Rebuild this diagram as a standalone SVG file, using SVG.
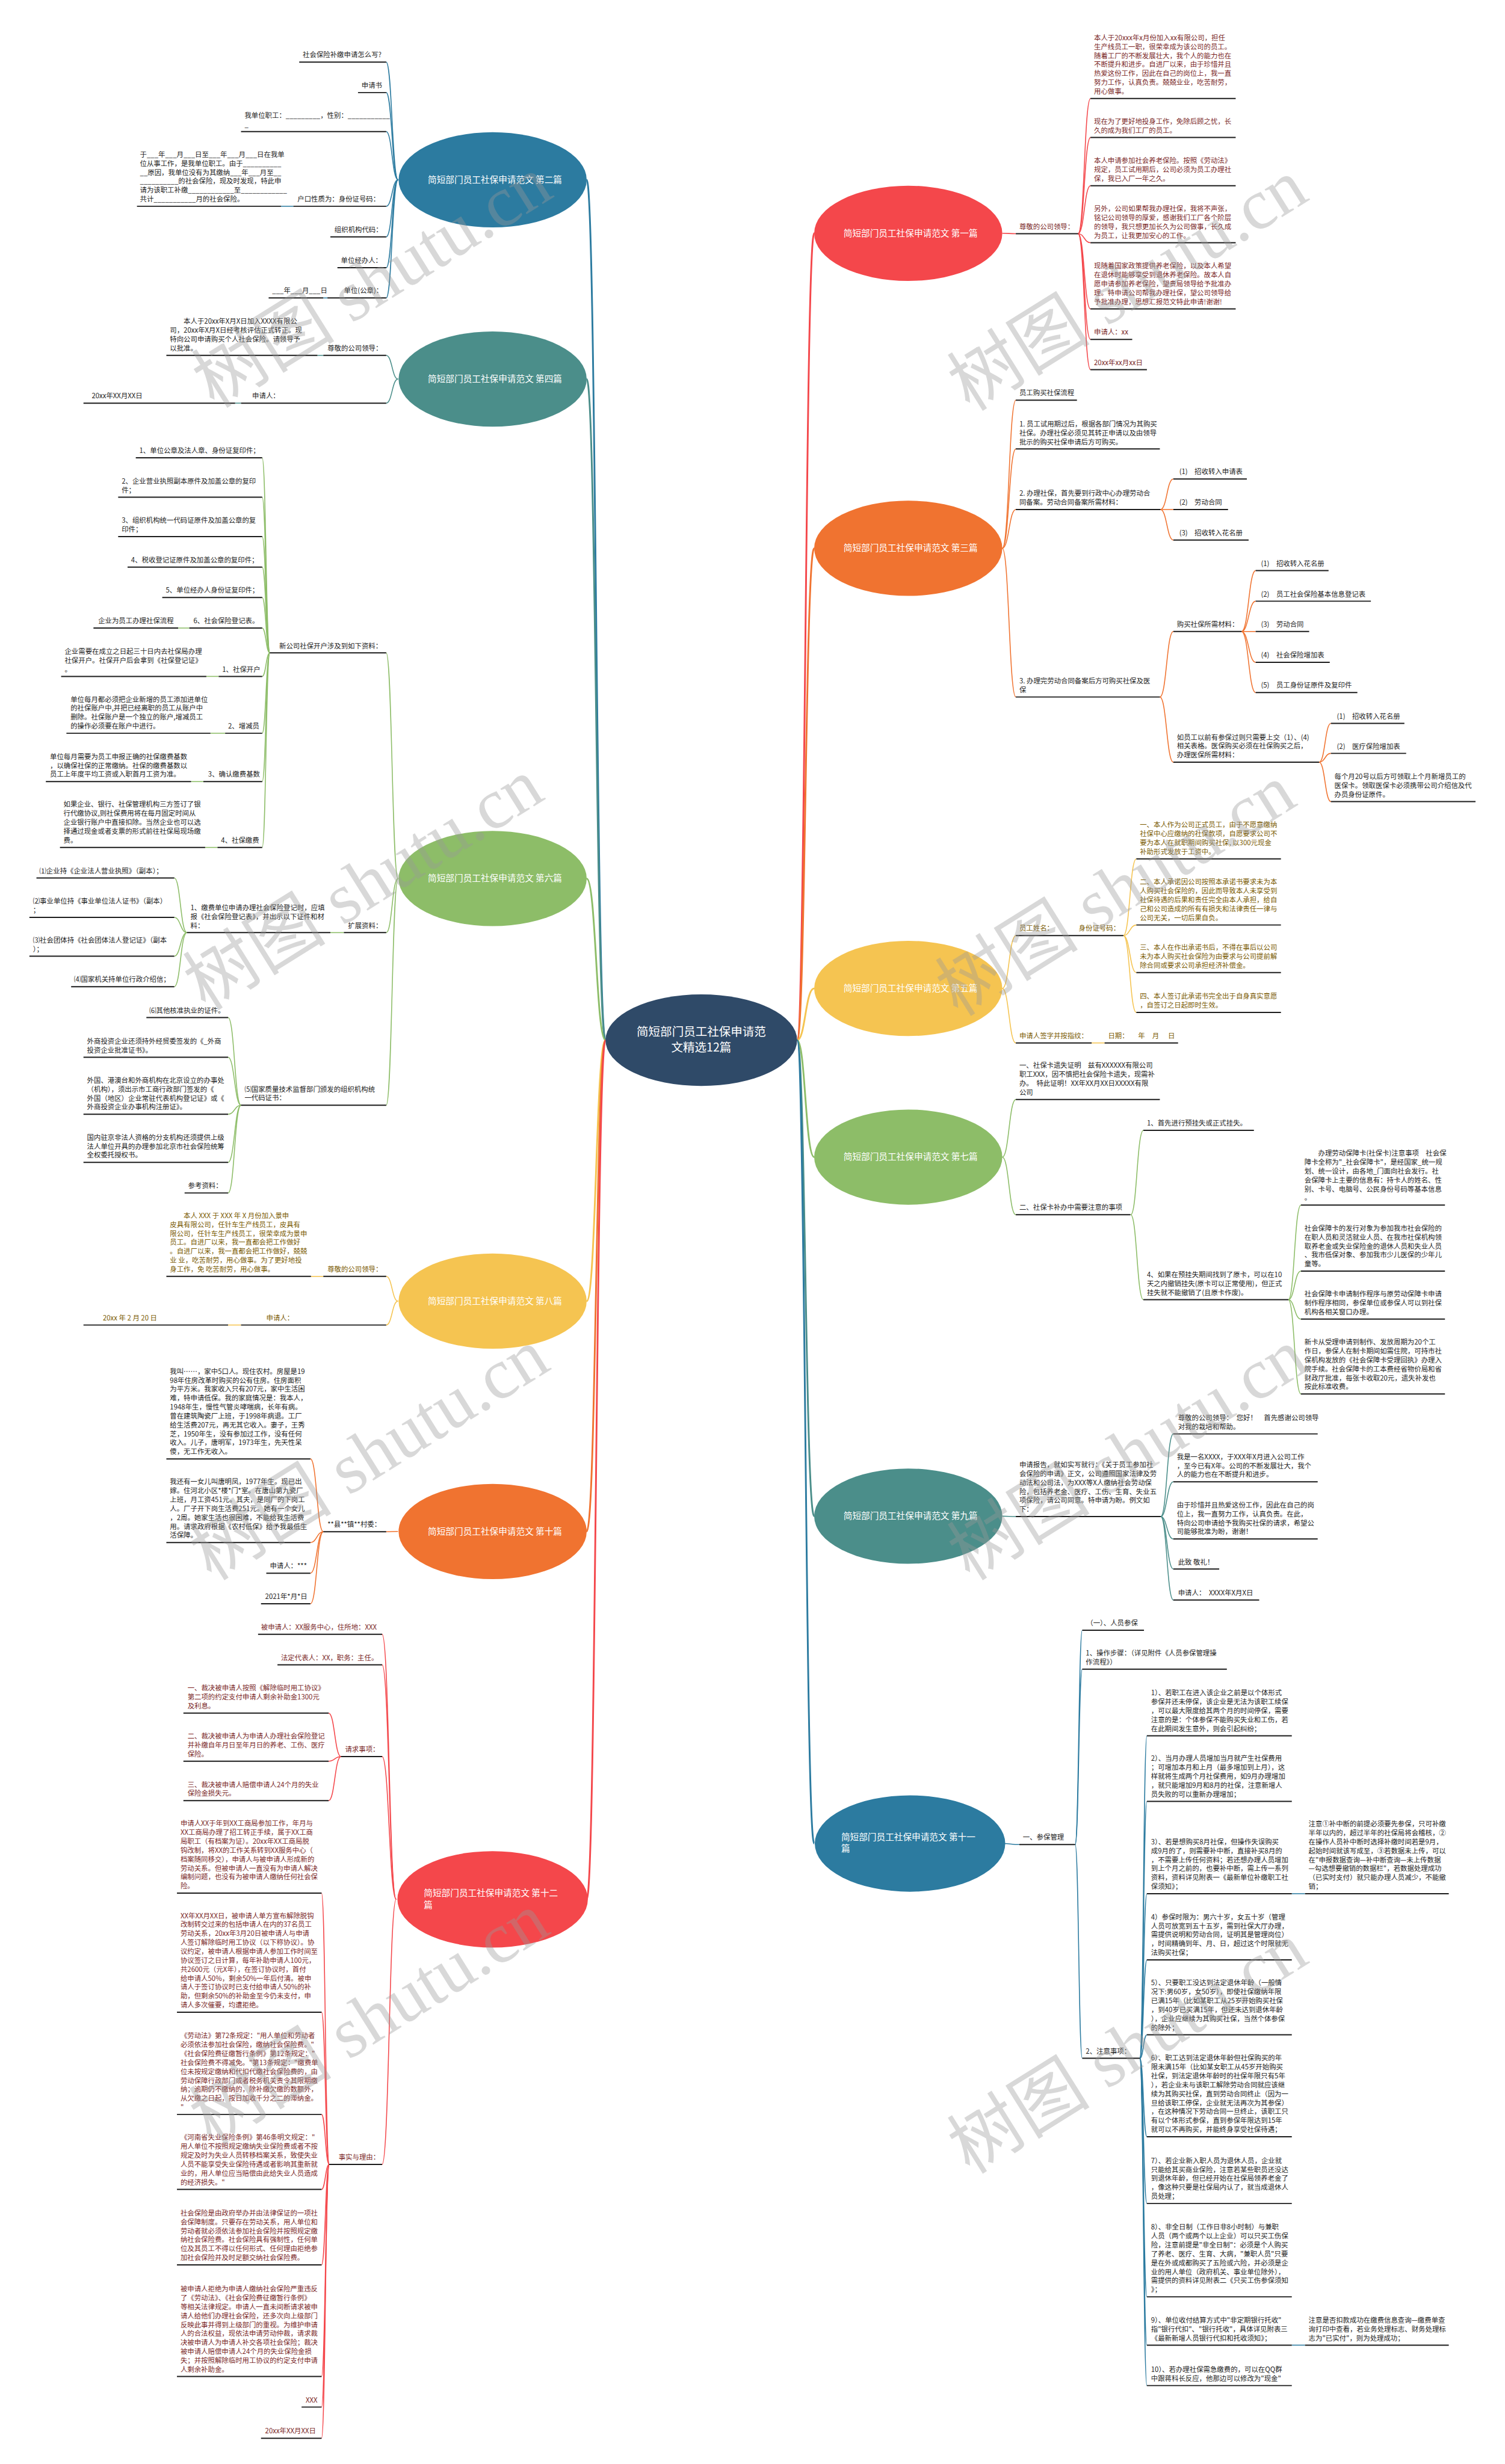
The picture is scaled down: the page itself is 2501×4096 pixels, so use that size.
<svg xmlns="http://www.w3.org/2000/svg" width="2501" height="4096" viewBox="0 0 2501 4096">
<style>
text{font-family:"Noto Sans CJK SC","Noto Sans",sans-serif}
.t{font-size:11.7px;fill:#222}
.r{fill:#7a1f1f}
.y{fill:#7a5a00}
.n{font-size:15px;fill:#fff}
.u{stroke:#1c1c1c;stroke-width:2;fill:none}
.c{fill:none;stroke-width:1.6}
.m{fill:none;stroke-width:3}
.cB{stroke:#2c7ba0}.cT{stroke:#4b8e8a}.cG{stroke:#8dbd68}.cY{stroke:#f5c451}.cO{stroke:#f07330}.cR{stroke:#f4474b}
.wm{font-family:"Liberation Serif","Noto Sans CJK SC",serif;font-size:122px;fill:#999;fill-opacity:.38}
</style>
<rect width="2501" height="4096" fill="#fff"/>
<g transform="scale(0.9769)">
<g id="connectors">
<path class="m cB" d="M1030 1770 C1014 1770 1014 306 998 306"/>
<path class="m cT" d="M1030 1770 C1014 1770 1014 645 998 645"/>
<path class="m cG" d="M1030 1770 C1014 1770 1014 1495 998 1495"/>
<path class="m cY" d="M1030 1770 C1014 1770 1014 2214 998 2214"/>
<path class="m cO" d="M1030 1770 C1014 1770 1014 2606 998 2606"/>
<path class="m cR" d="M1030 1770 C1014 1770 1014 3232 998 3232"/>
<path class="m cR" d="M1356 1770 C1370 1770 1370 397 1385 397"/>
<path class="m cO" d="M1356 1770 C1370 1770 1370 933 1385 933"/>
<path class="m cY" d="M1356 1770 C1370 1770 1370 1682 1385 1682"/>
<path class="m cG" d="M1356 1770 C1370 1770 1370 1969 1385 1969"/>
<path class="m cT" d="M1356 1770 C1370 1770 1370 2580 1385 2580"/>
<path class="m cB" d="M1356 1770 C1370 1770 1370 3137 1385 3137"/>
<g class="c cB">
<path d="M677 306 C667 306 667 105.6 657 105.6"/><path d="M677 306 C667 306 667 157.5 657 157.5"/><path d="M677 306 C667 306 667 224 657 224"/><path d="M677 306 C667 306 667 351 657 351"/><path d="M677 306 C667 306 667 403 657 403"/><path d="M677 306 C667 306 667 455.5 657 455.5"/><path d="M677 306 C667 306 667 507 657 507"/>
<path d="M499 351 H478"/><path d="M557 507 H550"/>
</g>
<g class="c cT">
<path d="M677 645 C667 645 667 604.7 657 604.7"/><path d="M677 645 C667 645 667 686 657 686"/><path d="M550 604.7 H540"/><path d="M410 686 H400"/>
</g>
<g class="c cG">
<path d="M677 1495 C667 1495 667 1111 657 1111"/><path d="M677 1495 C667 1495 667 1587 657 1587"/><path d="M677 1495 C667 1495 667 1880.7 657 1880.7"/>
<path d="M459 1111 C452.5 1111 452.5 779 446 779"/><path d="M459 1111 C452.5 1111 452.5 846 446 846"/><path d="M459 1111 C452.5 1111 452.5 913 446 913"/><path d="M459 1111 C452.5 1111 452.5 965 446 965"/><path d="M459 1111 C452.5 1111 452.5 1016.8 446 1016.8"/><path d="M459 1111 C452.5 1111 452.5 1068.7 446 1068.7"/><path d="M459 1111 C452.5 1111 452.5 1151 446 1151"/><path d="M459 1111 C452.5 1111 452.5 1247.7 446 1247.7"/><path d="M459 1111 C452.5 1111 452.5 1330 446 1330"/><path d="M459 1111 C452.5 1111 452.5 1442 446 1442"/>
<path d="M322 1068.7 H303"/><path d="M372 1151 H351"/><path d="M383 1247.7 H358"/><path d="M346 1330 H325"/><path d="M370 1442 H349"/>
<path d="M585 1587 H562"/>
<path d="M318 1587 C307 1587 307 1494 296.5 1494"/><path d="M318 1587 C307 1587 307 1561 296.5 1561"/><path d="M318 1587 C307 1587 307 1627 296.5 1627"/><path d="M318 1587 C307 1587 307 1679 296.5 1679"/>
<path d="M410 1880.7 C399 1880.7 399 1731.5 388 1731.5"/><path d="M410 1880.7 C399 1880.7 399 1799 388 1799"/><path d="M410 1880.7 C399 1880.7 399 1896 388 1896"/><path d="M410 1880.7 C399 1880.7 399 1978 388 1978"/><path d="M410 1880.7 C399 1880.7 399 2030 388 2030"/>
</g>
<g class="c cY">
<path d="M677 2214 C667 2214 667 2172 657 2172"/><path d="M677 2214 C667 2214 667 2254.7 657 2254.7"/><path d="M550 2172 H529"/><path d="M410 2254.7 H388"/>
</g>
<g class="c cO">
<path d="M677 2606 C667 2606 667 2606.4 657 2606.4"/>
<path d="M550 2606.4 C539 2606.4 539 2482.5 528 2482.5"/><path d="M550 2606.4 C539 2606.4 539 2624.8 528 2624.8"/><path d="M550 2606.4 C539 2606.4 539 2677 528 2677"/><path d="M550 2606.4 C539 2606.4 539 2729 528 2729"/>
</g>
<g class="c cR">
<path d="M674 3232 C662 3232 662 2781 650 2781"/><path d="M674 3232 C662 3232 662 2833 650 2833"/><path d="M674 3232 C662 3232 662 2989 650 2989"/><path d="M674 3232 C662 3232 662 3683 650 3683"/>
<path d="M580 2989 C569.5 2989 569.5 2915 559 2915"/><path d="M580 2989 C569.5 2989 569.5 2997 559 2997"/><path d="M580 2989 C569.5 2989 569.5 3064 559 3064"/>
<path d="M560 3683 C553.5 3683 553.5 3221.5 547 3221.5"/><path d="M560 3683 C553.5 3683 553.5 3424 547 3424"/><path d="M560 3683 C553.5 3683 553.5 3598 547 3598"/><path d="M560 3683 C553.5 3683 553.5 3725.6 547 3725.6"/><path d="M560 3683 C553.5 3683 553.5 3854 547 3854"/><path d="M560 3683 C553.5 3683 553.5 4044 547 4044"/><path d="M560 3683 C553.5 3683 553.5 4096 547 4096"/><path d="M560 3683 C553.5 3683 553.5 4149 547 4149"/>
</g>
<g class="c cR">
<path d="M1705 397 C1716 397 1716 397.6 1728 397.6"/>
<path d="M1834 397.6 C1844.5 397.6 1844.5 167.6 1855 167.6"/><path d="M1834 397.6 C1844.5 397.6 1844.5 234 1855 234"/><path d="M1834 397.6 C1844.5 397.6 1844.5 316 1855 316"/><path d="M1834 397.6 C1844.5 397.6 1844.5 413 1855 413"/><path d="M1834 397.6 C1844.5 397.6 1844.5 525.7 1855 525.7"/><path d="M1834 397.6 C1844.5 397.6 1844.5 577.6 1855 577.6"/><path d="M1834 397.6 C1844.5 397.6 1844.5 629 1855 629"/>
</g>
<g class="c cO">
<path d="M1705 933 C1716.5 933 1716.5 681 1728 681"/><path d="M1705 933 C1716.5 933 1716.5 764 1728 764"/><path d="M1705 933 C1716.5 933 1716.5 867 1728 867"/><path d="M1705 933 C1716.5 933 1716.5 1186 1728 1186"/>
<path d="M1974 867 C1985 867 1985 815 1996 815"/><path d="M1974 867 H1996"/><path d="M1974 867 C1985 867 1985 919 1996 919"/>
<path d="M1973 1186 C1984.5 1186 1984.5 1074.6 1996 1074.6"/><path d="M1973 1186 C1984.5 1186 1984.5 1297 1996 1297"/>
<path d="M2112 1074.6 C2124 1074.6 2124 971 2136 971"/><path d="M2112 1074.6 C2124 1074.6 2124 1023 2136 1023"/><path d="M2112 1074.6 H2136"/><path d="M2112 1074.6 C2124 1074.6 2124 1127 2136 1127"/><path d="M2112 1074.6 C2124 1074.6 2124 1178.4 2136 1178.4"/>
<path d="M2244 1297 C2254 1297 2254 1231 2264 1231"/><path d="M2244 1297 C2254 1297 2254 1282 2264 1282"/><path d="M2244 1297 C2254 1297 2254 1364 2264 1364"/>
</g>
<g class="c cY">
<path d="M1705 1682 C1716.5 1682 1716.5 1592 1728 1592"/><path d="M1705 1682 C1716.5 1682 1716.5 1774.7 1728 1774.7"/>
<path d="M1911 1592 C1922 1592 1922 1461.5 1933 1461.5"/><path d="M1911 1592 C1922 1592 1922 1574 1933 1574"/><path d="M1911 1592 C1922 1592 1922 1655 1933 1655"/><path d="M1911 1592 C1922 1592 1922 1722.8 1933 1722.8"/>
<path d="M1857 1774.7 H1879"/>
</g>
<g class="c cG">
<path d="M1705 1969 C1716.5 1969 1716.5 1871 1728 1871"/><path d="M1705 1969 C1716.5 1969 1716.5 2067 1728 2067"/>
<path d="M1923.5 2067 C1934 2067 1934 1923.4 1945 1923.4"/><path d="M1923.5 2067 C1934 2067 1934 2211.6 1945 2211.6"/>
<path d="M2191.6 2211.6 C2202 2211.6 2202 2050.6 2213 2050.6"/><path d="M2191.6 2211.6 C2202 2211.6 2202 2163 2213 2163"/><path d="M2191.6 2211.6 C2202 2211.6 2202 2244.6 2213 2244.6"/><path d="M2191.6 2211.6 C2202 2211.6 2202 2372 2213 2372"/>
</g>
<g class="c cT">
<path d="M1705 2580 C1716.5 2580 1716.5 2580.7 1728 2580.7"/>
<path d="M1974.5 2580.7 C1985 2580.7 1985 2440 1996 2440"/><path d="M1974.5 2580.7 C1985 2580.7 1985 2521.5 1996 2521.5"/><path d="M1974.5 2580.7 C1985 2580.7 1985 2618.8 1996 2618.8"/><path d="M1974.5 2580.7 C1985 2580.7 1985 2670 1996 2670"/><path d="M1974.5 2580.7 C1985 2580.7 1985 2722.6 1996 2722.6"/>
</g>
<g class="c cB">
<path d="M1705 3137 C1720 3137 1720 3138.8 1734 3138.8"/>
<path d="M1829 3138.8 C1835 3138.8 1835 2774 1841 2774"/><path d="M1829 3138.8 C1835 3138.8 1835 2840.4 1841 2840.4"/><path d="M1829 3138.8 C1835 3138.8 1835 3502.5 1841 3502.5"/>
<path d="M1939 3502.5 C1945 3502.5 1945 2953.8 1951 2953.8"/><path d="M1939 3502.5 C1945 3502.5 1945 3065.4 1951 3065.4"/><path d="M1939 3502.5 C1945 3502.5 1945 3222.4 1951 3222.4"/><path d="M1939 3502.5 C1945 3502.5 1945 3335 1951 3335"/><path d="M1939 3502.5 C1945 3502.5 1945 3462.5 1951 3462.5"/><path d="M1939 3502.5 C1945 3502.5 1945 3636 1951 3636"/><path d="M1939 3502.5 C1945 3502.5 1945 3749.5 1951 3749.5"/><path d="M1939 3502.5 C1945 3502.5 1945 3908.4 1951 3908.4"/><path d="M1939 3502.5 C1945 3502.5 1945 3990.6 1951 3990.6"/><path d="M1939 3502.5 C1945 3502.5 1945 4059.4 1951 4059.4"/>
<path d="M2197.5 3222.4 H2220"/><path d="M2197.5 3990.6 H2220"/>
</g>
</g>

<g id="center"><ellipse cx="1193" cy="1770" rx="163" ry="78" fill="#2f4a68"/><text x="1193" y="1763" font-size="20" fill="#fff" text-anchor="middle">简短部门员工社保申请范<tspan x="1193" dy="26">文精选12篇</tspan></text></g>
<g id="p2"><ellipse cx="838" cy="306" rx="160" ry="81" fill="#2c7ba0"/><text class="n" x="842" y="311" text-anchor="middle">简短部门员工社保申请范文 第二篇</text></g>
<g id="p4"><ellipse cx="838" cy="645" rx="160" ry="81" fill="#4b8e8a"/><text class="n" x="842" y="650" text-anchor="middle">简短部门员工社保申请范文 第四篇</text></g>
<g id="p6"><ellipse cx="838" cy="1495" rx="160" ry="81" fill="#8dbd68"/><text class="n" x="842" y="1500" text-anchor="middle">简短部门员工社保申请范文 第六篇</text></g>
<g id="p8"><ellipse cx="838" cy="2214" rx="160" ry="81" fill="#f5c451"/><text class="n" x="842" y="2219" text-anchor="middle">简短部门员工社保申请范文 第八篇</text></g>
<g id="p10"><ellipse cx="838" cy="2606" rx="160" ry="81" fill="#f07330"/><text class="n" x="842" y="2611" text-anchor="middle">简短部门员工社保申请范文 第十篇</text></g>
<g id="p12"><ellipse cx="838" cy="3232" rx="162" ry="82" fill="#f4474b"/><text class="n" x="721" y="3227">简短部门员工社保申请范文 第十二<tspan x="721" dy="20">篇</tspan></text></g>
<g id="p1"><ellipse cx="1545" cy="397" rx="160" ry="81" fill="#f4474b"/><text class="n" x="1549" y="402" text-anchor="middle">简短部门员工社保申请范文 第一篇</text></g>
<g id="p3"><ellipse cx="1545" cy="933" rx="160" ry="81" fill="#f07330"/><text class="n" x="1549" y="938" text-anchor="middle">简短部门员工社保申请范文 第三篇</text></g>
<g id="p5"><ellipse cx="1545" cy="1682" rx="160" ry="81" fill="#f5c451"/><text class="n" x="1549" y="1687" text-anchor="middle">简短部门员工社保申请范文 第五篇</text></g>
<g id="p7"><ellipse cx="1545" cy="1969" rx="160" ry="81" fill="#8dbd68"/><text class="n" x="1549" y="1974" text-anchor="middle">简短部门员工社保申请范文 第七篇</text></g>
<g id="p9"><ellipse cx="1545" cy="2580" rx="160" ry="81" fill="#4b8e8a"/><text class="n" x="1549" y="2585" text-anchor="middle">简短部门员工社保申请范文 第九篇</text></g>
<g id="p11"><ellipse cx="1548" cy="3137" rx="162" ry="82" fill="#2c7ba0"/><text class="n" x="1431" y="3131">简短部门员工社保申请范文 第十一<tspan x="1431" dy="20">篇</tspan></text></g>

<g id="p2a"><path class="u" d="M509 105.6 H657"/><text class="t" x="515" y="97.6">社会保险补缴申请怎么写?</text></g>
<g id="p2b"><path class="u" d="M609 157.5 H657"/><text class="t" x="615" y="149.5">申请书</text></g>
<g id="p2c"><path class="u" d="M410 224 H657"/><text class="t" x="416" y="200.8">我单位职工：_________，性别：___________<tspan x="416" dy="15.2">_</tspan></text></g>
<g id="p2d"><path class="u" d="M499 351 H657"/><text class="t" x="506" y="343">户口性质为：身份证号码：</text></g>
<g id="p2d1"><path class="u" d="M233 351 H478"/><text class="t" x="238" y="267">于___年___月___日至___年___月___日在我单<tspan x="238" dy="15.2">位从事工作，是我单位职工。由于__________</tspan><tspan x="238" dy="15.2">__原因，我单位没有为其缴纳___年___月至__</tspan><tspan x="238" dy="15.2">__________的社会保险，现及时发现，特此申</tspan><tspan x="238" dy="15.2">请为该职工补缴____________至____________</tspan><tspan x="238" dy="15.2">共计___________月的社会保险。</tspan></text></g>
<g id="p2e"><path class="u" d="M562 403 H657"/><text class="t" x="569" y="395">组织机构代码：</text></g>
<g id="p2f"><path class="u" d="M574 455.5 H657"/><text class="t" x="580" y="447.5">单位经办人：</text></g>
<g id="p2g"><path class="u" d="M557 507 H657"/><text class="t" x="585" y="499">单位(公章)：</text></g>
<g id="p2g1"><path class="u" d="M457 507 H550"/><text class="t" x="463" y="499">___年___月___日</text></g>

<g id="p4a"><path class="u" d="M550 604.7 H657"/><text class="t" x="557" y="596.7">尊敬的公司领导：</text></g>
<g id="p4a1"><path class="u" d="M283 604.7 H540"/><text class="t" x="289" y="551.1">　　本人于20xx年X月X日加入XXXX有限公<tspan x="289" dy="15.2">司，20xx年X月X日经考核评估正式转正。现</tspan><tspan x="289" dy="15.2">特向公司申请购买个人社会保险。请领导予</tspan><tspan x="289" dy="15.2">以批准。</tspan></text></g>
<g id="p4b"><path class="u" d="M410 686 H657"/><text class="t" x="429" y="678">申请人：</text></g>
<g id="p4b1"><path class="u" d="M142 686 H400"/><text class="t" x="156" y="678">20xx年XX月XX日</text></g>

<g id="p6a"><path class="u" d="M459 1111 H657"/><text class="t" x="475" y="1103">新公司社保开户涉及到如下资料：</text></g>
<g id="p6a1"><path class="u" d="M231 779 H446"/><text class="t" x="237" y="771">1、单位公章及法人章、身份证复印件；</text></g>
<g id="p6a2"><path class="u" d="M201 846 H446"/><text class="t" x="207" y="822.8">2、企业营业执照副本原件及加盖公章的复印<tspan x="207" dy="15.2">件；</tspan></text></g>
<g id="p6a3"><path class="u" d="M201 913 H446"/><text class="t" x="207" y="889.8">3、组织机构统一代码证原件及加盖公章的复<tspan x="207" dy="15.2">印件；</tspan></text></g>
<g id="p6a4"><path class="u" d="M217 965 H446"/><text class="t" x="223" y="957">4、税收登记证原件及加盖公章的复印件；</text></g>
<g id="p6a5"><path class="u" d="M276 1016.8 H446"/><text class="t" x="282" y="1008.8">5、单位经办人身份证复印件；</text></g>
<g id="p6a6"><path class="u" d="M322 1068.7 H446"/><text class="t" x="329" y="1060.7">6、社会保险登记表。</text></g>
<g id="p6a6a"><path class="u" d="M159 1068.7 H303"/><text class="t" x="167" y="1060.7">企业为员工办理社保流程</text></g>
<g id="p6a7"><path class="u" d="M372 1151 H446"/><text class="t" x="378" y="1143">1、社保开户</text></g>
<g id="p6a7a"><path class="u" d="M104 1151 H351"/><text class="t" x="110" y="1112.6">企业需要在成立之日起三十日内去社保局办理<tspan x="110" dy="15.2">社保开户。社保开户后会拿到《社保登记证》</tspan><tspan x="110" dy="15.2">。</tspan></text></g>
<g id="p6a8"><path class="u" d="M383 1247.7 H446"/><text class="t" x="388" y="1239.7">2、增减员</text></g>
<g id="p6a8a"><path class="u" d="M113 1247.7 H358"/><text class="t" x="120" y="1194.1">单位每月都必须把企业新增的员工添加进单位<tspan x="120" dy="15.2">的社保账户中,并把已经离职的员工从账户中</tspan><tspan x="120" dy="15.2">删除。社保账户是一个独立的账户,增减员工</tspan><tspan x="120" dy="15.2">的操作必须要在账户中进行。</tspan></text></g>
<g id="p6a9"><path class="u" d="M346 1330 H446"/><text class="t" x="354" y="1322">3、确认缴费基数</text></g>
<g id="p6a9a"><path class="u" d="M78 1330 H325"/><text class="t" x="85" y="1291.6">单位每月需要为员工申报正确的社保缴费基数<tspan x="85" dy="15.2">，以确保社保的正常缴纳。社保的缴费基数以</tspan><tspan x="85" dy="15.2">员工上年度平均工资或入职首月工资为准。</tspan></text></g>
<g id="p6a10"><path class="u" d="M370 1442 H446"/><text class="t" x="376" y="1434">4、社保缴费</text></g>
<g id="p6a10a"><path class="u" d="M102 1442 H349"/><text class="t" x="108" y="1373.2">如果企业、银行、社保管理机构三方签订了银<tspan x="108" dy="15.2">行代缴协议,则社保费用将在每月固定时间从</tspan><tspan x="108" dy="15.2">企业银行账户中直接扣除。当然企业也可以选</tspan><tspan x="108" dy="15.2">择通过现金或者支票的形式前往社保局现场缴</tspan><tspan x="108" dy="15.2">费。</tspan></text></g>
<g id="p6b"><path class="u" d="M585 1587 H657"/><text class="t" x="592" y="1579">扩展资料：</text></g>
<g id="p6b1"><path class="u" d="M318 1587 H562"/><text class="t" x="324" y="1548.6">1、缴费单位申请办理社会保险登记时，应填<tspan x="324" dy="15.2">报《社会保险登记表》，并出示以下证件和材</tspan><tspan x="324" dy="15.2">料：</tspan></text></g>
<g id="p6b1a"><path class="u" d="M62 1494 H296.5"/><text class="t" x="67" y="1486">⑴企业持《企业法人营业执照》（副本）；</text></g>
<g id="p6b1b"><path class="u" d="M50 1561 H296.5"/><text class="t" x="56" y="1537.8">⑵事业单位持《事业单位法人证书》（副本）<tspan x="56" dy="15.2">；</tspan></text></g>
<g id="p6b1c"><path class="u" d="M50 1627 H296.5"/><text class="t" x="56" y="1603.8">⑶社会团体持《社会团体法人登记证》（副本<tspan x="56" dy="15.2">）；</tspan></text></g>
<g id="p6b1d"><path class="u" d="M121 1679 H296.5"/><text class="t" x="126" y="1671">⑷国家机关持单位行政介绍信；</text></g>
<g id="p6c"><path class="u" d="M410 1880.7 H657"/><text class="t" x="416" y="1857.5">⑸国家质量技术监督部门颁发的组织机构统<tspan x="416" dy="15.2">一代码证书：</tspan></text></g>
<g id="p6c1"><path class="u" d="M249 1731.5 H388"/><text class="t" x="254" y="1723.5">⑹其他核准执业的证件。</text></g>
<g id="p6c2"><path class="u" d="M142 1799 H388"/><text class="t" x="148" y="1775.8">外商投资企业还须持外经贸委签发的《_外商<tspan x="148" dy="15.2">投资企业批准证书》。</tspan></text></g>
<g id="p6c3"><path class="u" d="M142 1896 H388"/><text class="t" x="148" y="1842.4">外国、港澳台和外商机构在北京设立的办事处<tspan x="148" dy="15.2">（机构），须出示市工商行政部门签发的《</tspan><tspan x="148" dy="15.2">外国（地区）企业常驻代表机构登记证》或《</tspan><tspan x="148" dy="15.2">外商投资企业办事机构注册证》。</tspan></text></g>
<g id="p6c4"><path class="u" d="M142 1978 H388"/><text class="t" x="148" y="1939.6">国内驻京非法人资格的分支机构还须提供上级<tspan x="148" dy="15.2">法人单位开具的办理参加北京市社会保险统筹</tspan><tspan x="148" dy="15.2">全权委托授权书。</tspan></text></g>
<g id="p6c5"><path class="u" d="M314 2030 H388"/><text class="t" x="320" y="2022">参考资料：</text></g>

<g id="p8a"><path class="u" d="M550 2172 H657"/><text class="t y" x="557" y="2164">尊敬的公司领导：</text></g>
<g id="p8a1"><path class="u" d="M283 2172 H529"/><text class="t y" x="289" y="2072.8">　　本人 XXX 于 XXX 年 X 月份加入景申<tspan x="289" dy="15.2">皮具有限公司，任针车生产线员工，皮具有</tspan><tspan x="289" dy="15.2">限公司，任针车生产线员工，很荣幸成为景申</tspan><tspan x="289" dy="15.2">员工。自进厂以来，我一直都会把工作做好</tspan><tspan x="289" dy="15.2">。自进厂以来，我一直都会把工作做好，兢兢</tspan><tspan x="289" dy="15.2">业 业，吃苦耐劳，用心做事。为了更好地投</tspan><tspan x="289" dy="15.2">身工作，免 吃苦耐劳，用心做事。</tspan></text></g>
<g id="p8b"><path class="u" d="M410 2254.7 H657"/><text class="t y" x="453" y="2246.7">申请人：</text></g>
<g id="p8b1"><path class="u" d="M142 2254.7 H388"/><text class="t y" x="175" y="2246.7">20xx 年 2 月 20 日</text></g>

<g id="p10a"><path class="u" d="M550 2606.4 H657"/><text class="t" x="557" y="2598.4">**县**镇**村委：</text></g>
<g id="p10a1"><path class="u" d="M283 2482.5 H528"/><text class="t" x="289" y="2337.7">我叫……，家中5口人。现住农村。房屋是19<tspan x="289" dy="15.2">98年住房改革时购买的公有住房。住房面积</tspan><tspan x="289" dy="15.2">为平方米。我家收入只有207元，家中生活困</tspan><tspan x="289" dy="15.2">难，特申请低保。我的家庭情况是：我本人，</tspan><tspan x="289" dy="15.2">1948年生，慢性气管炎哮喘病，长年有病。</tspan><tspan x="289" dy="15.2">曾在建筑陶瓷厂上班，于1998年病退。工厂</tspan><tspan x="289" dy="15.2">给生活费207元，再无其它收入。妻子，王秀</tspan><tspan x="289" dy="15.2">芝，1950年生，没有参加过工作，没有任何</tspan><tspan x="289" dy="15.2">收入。儿子，唐明军，1973年生，先天性呆</tspan><tspan x="289" dy="15.2">傻，无工作无收入。</tspan></text></g>
<g id="p10a2"><path class="u" d="M283 2624.8 H528"/><text class="t" x="289" y="2525.6">我还有一女儿叫唐明凤，1977年生。现已出<tspan x="289" dy="15.2">嫁。住河北小区*楼*门*室。在唐山第九瓷厂</tspan><tspan x="289" dy="15.2">上班，月工资451元。其夫，是同厂的下岗工</tspan><tspan x="289" dy="15.2">人。厂子开下岗生活费251元。她有一个女儿</tspan><tspan x="289" dy="15.2">，2周。她家生活也很困难，不能给我生活费</tspan><tspan x="289" dy="15.2">用。请求政府根据《农村低保》给予我最低生</tspan><tspan x="289" dy="15.2">活保障。</tspan></text></g>
<g id="p10a3"><path class="u" d="M453 2677 H528"/><text class="t" x="459" y="2669">申请人：***</text></g>
<g id="p10a4"><path class="u" d="M444 2729 H528"/><text class="t" x="451" y="2721">2021年*月*日</text></g>

<g id="p12a"><path class="u" d="M439 2781 H650"/><text class="t r" x="444" y="2773">被申请人：XX服务中心，住所地：XXX</text></g>
<g id="p12b"><path class="u" d="M472 2833 H650"/><text class="t r" x="478" y="2825">法定代表人：XX，职务：主任。</text></g>
<g id="p12c"><path class="u" d="M580 2989 H650"/><text class="t r" x="587" y="2981">请求事项：</text></g>
<g id="p12c1"><path class="u" d="M312 2915 H559"/><text class="t r" x="319" y="2876.6">一、裁决被申请人按照《解除临时用工协议》<tspan x="319" dy="15.2">第二项的约定支付申请人剩余补助金1300元</tspan><tspan x="319" dy="15.2">及利息。</tspan></text></g>
<g id="p12c2"><path class="u" d="M312 2997 H559"/><text class="t r" x="319" y="2958.6">二、裁决被申请人为申请人办理社会保险登记<tspan x="319" dy="15.2">并补缴自年月日至年月日的养老、工伤、医疗</tspan><tspan x="319" dy="15.2">保险。</tspan></text></g>
<g id="p12c3"><path class="u" d="M312 3064 H559"/><text class="t r" x="319" y="3040.8">三、裁决被申请人赔偿申请人24个月的失业<tspan x="319" dy="15.2">保险金损失元。</tspan></text></g>
<g id="p12d"><path class="u" d="M560 3683 H650"/><text class="t r" x="576" y="3675">事实与理由：</text></g>
<g id="p12d1"><path class="u" d="M301 3221.5 H547"/><text class="t r" x="307" y="3107.1">申请人XX于年到XX工商局参加工作，年月与<tspan x="307" dy="15.2">XX工商局办理了招工转正手续，属于XX工商</tspan><tspan x="307" dy="15.2">局职工（有档案为证）。20xx年XX工商局脱</tspan><tspan x="307" dy="15.2">钩改制，将XX的工作关系转到XX服务中心（</tspan><tspan x="307" dy="15.2">档案随同移交），申请人与被申请人形成新的</tspan><tspan x="307" dy="15.2">劳动关系。但被申请人一直没有为申请人解决</tspan><tspan x="307" dy="15.2">编制问题，也没有为被申请人缴纳任何社会保</tspan><tspan x="307" dy="15.2">险。</tspan></text></g>
<g id="p12d2"><path class="u" d="M301 3424 H547"/><text class="t r" x="307" y="3264">XX年XX月XX日，被申请人单方宣布解除脱钩<tspan x="307" dy="15.2">改制转交过来的包括申请人在内的37名员工</tspan><tspan x="307" dy="15.2">劳动关系，20xx年3月20日被申请人与申请</tspan><tspan x="307" dy="15.2">人签订解除临时用工协议（以下称协议）。协</tspan><tspan x="307" dy="15.2">议约定，被申请人根据申请人参加工作时间至</tspan><tspan x="307" dy="15.2">协议签订之日计算，每年补助申请人100元，</tspan><tspan x="307" dy="15.2">共2600元（元X年），在签订协议时，首付</tspan><tspan x="307" dy="15.2">给申请人50%，剩余50%一年后付清。被申</tspan><tspan x="307" dy="15.2">请人于签订协议时已支付给申请人50%的补</tspan><tspan x="307" dy="15.2">助，但剩余50%的补助金至今仍未支付，申</tspan><tspan x="307" dy="15.2">请人多次催要，均遭拒绝。</tspan></text></g>
<g id="p12d3"><path class="u" d="M301 3598 H547"/><text class="t r" x="307" y="3468.4">《劳动法》第72条规定："用人单位和劳动者<tspan x="307" dy="15.2">必须依法参加社会保险，缴纳社会保险费。"</tspan><tspan x="307" dy="15.2">《社会保险费征缴暂行条例》第12条规定："</tspan><tspan x="307" dy="15.2">社会保险费不得减免。"第13条规定："缴费单</tspan><tspan x="307" dy="15.2">位未按规定缴纳和代扣代缴社会保险费的，由</tspan><tspan x="307" dy="15.2">劳动保障行政部门或者税务机关责令其限期缴</tspan><tspan x="307" dy="15.2">纳；逾期仍不缴纳的，除补缴欠缴的数额外，</tspan><tspan x="307" dy="15.2">从欠缴之日起，按日加收千分之二的滞纳金。</tspan><tspan x="307" dy="15.2">"</tspan></text></g>
<g id="p12d4"><path class="u" d="M301 3725.6 H547"/><text class="t r" x="307" y="3641.6">《河南省失业保险条例》第46条明文规定："<tspan x="307" dy="15.2">用人单位不按照规定缴纳失业保险费或者不按</tspan><tspan x="307" dy="15.2">规定及时为失业人员转移档案关系，致使失业</tspan><tspan x="307" dy="15.2">人员不能享受失业保险待遇或者影响其重新就</tspan><tspan x="307" dy="15.2">业的，用人单位应当赔偿由此给失业人员造成</tspan><tspan x="307" dy="15.2">的经济损失。"</tspan></text></g>
<g id="p12d5"><path class="u" d="M301 3854 H547"/><text class="t r" x="307" y="3770">社会保险是由政府举办并由法律保证的一项社<tspan x="307" dy="15.2">会保障制度。只要存在劳动关系，用人单位和</tspan><tspan x="307" dy="15.2">劳动者就必须依法参加社会保险并按照规定缴</tspan><tspan x="307" dy="15.2">纳社会保险费。社会保险具有强制性，任何单</tspan><tspan x="307" dy="15.2">位及其员工不得以任何形式、任何理由拒绝参</tspan><tspan x="307" dy="15.2">加社会保险并及时足额交纳社会保险费。</tspan></text></g>
<g id="p12d6"><path class="u" d="M301 4044 H547"/><text class="t r" x="307" y="3899.2">被申请人拒绝为申请人缴纳社会保险严重违反<tspan x="307" dy="15.2">了《劳动法》、《社会保险费征缴暂行条例》</tspan><tspan x="307" dy="15.2">等相关法律规定。申请人一直未间断请求被申</tspan><tspan x="307" dy="15.2">请人给他们办理社会保险，还多次向上级部门</tspan><tspan x="307" dy="15.2">反映此事并得到上级部门的重视。为维护申请</tspan><tspan x="307" dy="15.2">人的合法权益，现依法申请劳动仲裁，请求裁</tspan><tspan x="307" dy="15.2">决被申请人为申请人补交各项社会保险；裁决</tspan><tspan x="307" dy="15.2">被申请人赔偿申请人24个月的失业保险金损</tspan><tspan x="307" dy="15.2">失；并按照解除临时用工协议的约定支付申请</tspan><tspan x="307" dy="15.2">人剩余补助金。</tspan></text></g>
<g id="p12d7"><path class="u" d="M513 4096 H547"/><text class="t r" x="520" y="4088">XXX</text></g>
<g id="p12d8"><path class="u" d="M444 4149 H547"/><text class="t r" x="451" y="4141">20xx年XX月XX日</text></g>

<g id="p1a"><path class="u" d="M1728 397.6 H1834"/><text class="t r" x="1734" y="389.6">尊敬的公司领导：</text></g>
<g id="p1a1"><path class="u" d="M1855 167.6 H2102"/><text class="t r" x="1861" y="68.4">本人于20xxx年x月份加入xx有限公司，担任<tspan x="1861" dy="15.2">生产线员工一职，很荣幸成为该公司的员工。</tspan><tspan x="1861" dy="15.2">随着工厂的不断发展壮大，我个人的能力也在</tspan><tspan x="1861" dy="15.2">不断提升和进步。自进厂以来，由于珍惜并且</tspan><tspan x="1861" dy="15.2">热爱这份工作，因此在自己的岗位上，我一直</tspan><tspan x="1861" dy="15.2">努力工作，认真负责。兢兢业业，吃苦耐劳，</tspan><tspan x="1861" dy="15.2">用心做事。</tspan></text></g>
<g id="p1a2"><path class="u" d="M1855 234 H2102"/><text class="t r" x="1861" y="210.8">现在为了更好地投身工作，免除后顾之忧，长<tspan x="1861" dy="15.2">久的成为我们工厂的员工。</tspan></text></g>
<g id="p1a3"><path class="u" d="M1855 316 H2102"/><text class="t r" x="1861" y="277.6">本人申请参加社会养老保险。按照《劳动法》<tspan x="1861" dy="15.2">规定，员工试用期后，公司必须为员工办理社</tspan><tspan x="1861" dy="15.2">保，我已入厂一年之久。</tspan></text></g>
<g id="p1a4"><path class="u" d="M1855 413 H2102"/><text class="t r" x="1861" y="359.4">另外，公司如果帮我办理社保，我将不声张，<tspan x="1861" dy="15.2">铭记公司领导的厚爱，感谢我们工厂各个阶层</tspan><tspan x="1861" dy="15.2">的领导，我只想更加长久为公司做事，长久成</tspan><tspan x="1861" dy="15.2">为员工，让我更加安心的工作。</tspan></text></g>
<g id="p1a5"><path class="u" d="M1855 525.7 H2102"/><text class="t r" x="1861" y="456.9">现随着国家政策提供养老保险，以及本人希望<tspan x="1861" dy="15.2">在退休时能够享受到退休养老保险。故本人自</tspan><tspan x="1861" dy="15.2">愿申请参加养老保险，望贵局领导给予批准办</tspan><tspan x="1861" dy="15.2">理。特申请公司帮我办理社保，望公司领导给</tspan><tspan x="1861" dy="15.2">予批准办理，思想汇报范文特此申请!谢谢!</tspan></text></g>
<g id="p1a6"><path class="u" d="M1855 577.6 H1926"/><text class="t r" x="1861" y="569.6">申请人：xx</text></g>
<g id="p1a7"><path class="u" d="M1855 629 H1951"/><text class="t r" x="1861" y="621">20xx年xx月xx日</text></g>

<g id="p3a"><path class="u" d="M1728 681 H1832"/><text class="t" x="1734" y="673">员工购买社保流程</text></g>
<g id="p3b"><path class="u" d="M1728 764 H1973"/><text class="t" x="1734" y="725.6">1. 员工试用期过后，根据各部门情况为其购买<tspan x="1734" dy="15.2">社保。办理社保必须见其转正申请以及由领导</tspan><tspan x="1734" dy="15.2">批示的购买社保申请后方可购买。</tspan></text></g>
<g id="p3c"><path class="u" d="M1728 867 H1974"/><text class="t" x="1734" y="843.8">2. 办理社保，首先要到行政中心办理劳动合<tspan x="1734" dy="15.2">同备案。劳动合同备案所需材料：</tspan></text></g>
<g id="p3c1"><path class="u" d="M1996 815 H2121"/><text class="t" x="2006" y="807">(1)　招收转入申请表</text></g>
<g id="p3c2"><path class="u" d="M1996 867 H2089"/><text class="t" x="2006" y="859">(2)　劳动合同</text></g>
<g id="p3c3"><path class="u" d="M1996 919 H2124"/><text class="t" x="2006" y="911">(3)　招收转入花名册</text></g>
<g id="p3d"><path class="u" d="M1728 1186 H1973"/><text class="t" x="1734" y="1162.8">3. 办理完劳动合同备案后方可购买社保及医<tspan x="1734" dy="15.2">保</tspan></text></g>
<g id="p3d1"><path class="u" d="M1996 1074.6 H2112"/><text class="t" x="2002" y="1066.6">购买社保所需材料：</text></g>
<g id="p3d1a"><path class="u" d="M2136 971 H2260"/><text class="t" x="2145" y="963">(1)　招收转入花名册</text></g>
<g id="p3d1b"><path class="u" d="M2136 1023 H2332"/><text class="t" x="2145" y="1015">(2)　员工社会保险基本信息登记表</text></g>
<g id="p3d1c"><path class="u" d="M2136 1074.6 H2227"/><text class="t" x="2145" y="1066.6">(3)　劳动合同</text></g>
<g id="p3d1d"><path class="u" d="M2136 1127 H2262"/><text class="t" x="2145" y="1119">(4)　社会保险增加表</text></g>
<g id="p3d1e"><path class="u" d="M2136 1178.4 H2309"/><text class="t" x="2145" y="1170.4">(5)　员工身份证原件及复印件</text></g>
<g id="p3d2"><path class="u" d="M1996 1297 H2244"/><text class="t" x="2002" y="1258.6">如员工以前有参保过则只需要上交（1）、(4)<tspan x="2002" dy="15.2">相关表格。医保购买必须在社保购买之后，</tspan><tspan x="2002" dy="15.2">办理医保所需材料：</tspan></text></g>
<g id="p3d2a"><path class="u" d="M2264 1231 H2389"/><text class="t" x="2274" y="1223">(1)　招收转入花名册</text></g>
<g id="p3d2b"><path class="u" d="M2264 1282 H2392"/><text class="t" x="2274" y="1274">(2)　医疗保险增加表</text></g>
<g id="p3d2c"><path class="u" d="M2264 1364 H2510"/><text class="t" x="2270" y="1325.6">每个月20号以后方可领取上个月新增员工的<tspan x="2270" dy="15.2">医保卡。领取医保卡必须携带公司介绍信及代</tspan><tspan x="2270" dy="15.2">办员身份证原件。</tspan></text></g>

<g id="p5a"><path class="u" d="M1728 1592 H1911"/><text class="t y" x="1734" y="1584">员工姓名：</text><text class="t y" x="1835" y="1584">身份证号码：</text></g>
<g id="p5a1"><path class="u" d="M1933 1461.5 H2179"/><text class="t y" x="1939" y="1407.9">一、本人作为公司正式员工，由于不愿意缴纳<tspan x="1939" dy="15.2">社保中心应缴纳的社保款项，自愿要求公司不</tspan><tspan x="1939" dy="15.2">要为本人在就职期间购买社保, 以300元现金</tspan><tspan x="1939" dy="15.2">补助形式发放于工资中。</tspan></text></g>
<g id="p5a2"><path class="u" d="M1933 1574 H2179"/><text class="t y" x="1939" y="1505.2">二、本人承诺因公司按照本承诺书要求未为本<tspan x="1939" dy="15.2">人购买社会保险的，因此而导致本人未享受到</tspan><tspan x="1939" dy="15.2">社保待遇的后果和责任完全由本人承担，给自</tspan><tspan x="1939" dy="15.2">己和公司造成的所有有损失和法律责任一律与</tspan><tspan x="1939" dy="15.2">公司无关，一切后果自负。</tspan></text></g>
<g id="p5a3"><path class="u" d="M1933 1655 H2179"/><text class="t y" x="1939" y="1616.6">三、本人在作出承诺书后，不得在事后以公司<tspan x="1939" dy="15.2">未为本人购买社会保险为由要求与公司提前解</tspan><tspan x="1939" dy="15.2">除合同或要求公司承担经济补偿金。</tspan></text></g>
<g id="p5a4"><path class="u" d="M1933 1722.8 H2179"/><text class="t y" x="1939" y="1699.6">四、本人签订此承诺书完全出于自身真实意愿<tspan x="1939" dy="15.2">，自签订之日起即时生效。</tspan></text></g>
<g id="p5b"><path class="u" d="M1728 1774.7 H1857"/><text class="t y" x="1734" y="1766.7">申请人签字并按指纹：</text></g>
<g id="p5b1"><path class="u" d="M1879 1774.7 H2004"/><text class="t y" x="1885" y="1766.7">日期：</text><text class="t y" x="1936" y="1766.7">年</text><text class="t y" x="1960" y="1766.7">月</text><text class="t y" x="1987" y="1766.7">日</text></g>

<g id="p7a"><path class="u" d="M1728 1871 H1973"/><text class="t" x="1734" y="1817.4">一、社保卡遗失证明　兹有XXXXXX有限公司<tspan x="1734" dy="15.2">职工XXX，因不慎把社会保险卡遗失，现需补</tspan><tspan x="1734" dy="15.2">办。　特此证明！XX年XX月XX日XXXXX有限</tspan><tspan x="1734" dy="15.2">公司</tspan></text></g>
<g id="p7b"><path class="u" d="M1728 2067 H1923"/><text class="t" x="1734" y="2059">二、社保卡补办中需要注意的事项</text></g>
<g id="p7b1"><path class="u" d="M1945 1923.4 H2133"/><text class="t" x="1951" y="1915.4">1、首先进行预挂失或正式挂失。</text></g>
<g id="p7b2"><path class="u" d="M1945 2211.6 H2191.6"/><text class="t" x="1951" y="2173.2">4、如果在预挂失期间找到了原卡，可以在10<tspan x="1951" dy="15.2">天之内撤销挂失(原卡可以正常使用)，但正式</tspan><tspan x="1951" dy="15.2">挂失就不能撤销了(且原卡作废)。</tspan></text></g>
<g id="p7b2a"><path class="u" d="M2213 2050.6 H2458"/><text class="t" x="2219" y="1966.6">　　办理劳动保障卡(社保卡)注意事项　社会保<tspan x="2219" dy="15.2">障卡全称为"_社会保障卡"，是经国家_统一规</tspan><tspan x="2219" dy="15.2">划、统一设计，由各地_门面向社会发行。社</tspan><tspan x="2219" dy="15.2">会保障卡上主要的信息有：持卡人的姓名、性</tspan><tspan x="2219" dy="15.2">别、卡号、电脑号、公民身份号码等基本信息</tspan><tspan x="2219" dy="15.2">。</tspan></text></g>
<g id="p7b2b"><path class="u" d="M2213 2163 H2458"/><text class="t" x="2219" y="2094.2">社会保障卡的发行对象为参加我市社会保险的<tspan x="2219" dy="15.2">在职人员和灵活就业人员、在我市社保机构领</tspan><tspan x="2219" dy="15.2">取养老金或失业保险金的退休人员和失业人员</tspan><tspan x="2219" dy="15.2">、我市低保对象、参加我市少儿医保的少年儿</tspan><tspan x="2219" dy="15.2">童等。</tspan></text></g>
<g id="p7b2c"><path class="u" d="M2213 2244.6 H2458"/><text class="t" x="2219" y="2206.2">社会保障卡申请制作程序与原劳动保障卡申请<tspan x="2219" dy="15.2">制作程序相同，参保单位或参保人可以到社保</tspan><tspan x="2219" dy="15.2">机构各相关窗口办理。</tspan></text></g>
<g id="p7b2d"><path class="u" d="M2213 2372 H2458"/><text class="t" x="2219" y="2288">新卡从受理申请到制作、发放周期为20个工<tspan x="2219" dy="15.2">作日，参保人在制卡期间如需住院，可持市社</tspan><tspan x="2219" dy="15.2">保机构发放的《社会保障卡受理回执》办理入</tspan><tspan x="2219" dy="15.2">院手续。社会保障卡的工本费经省物价局和省</tspan><tspan x="2219" dy="15.2">财政厅批准，每张卡收取20元，遗失补发也</tspan><tspan x="2219" dy="15.2">按此标准收费。</tspan></text></g>

<g id="p9a"><path class="u" d="M1728 2580.7 H1974.5"/><text class="t" x="1734" y="2496.7">申请报告，就如实写就行：《关于员工参加社<tspan x="1734" dy="15.2">会保险的申请》正文，公司遵照国家法律及劳</tspan><tspan x="1734" dy="15.2">动法和公司法，为XXX等X人缴纳社会劳动保</tspan><tspan x="1734" dy="15.2">险，包括养老金、医疗、工伤、生育、失业五</tspan><tspan x="1734" dy="15.2">项保险，请公司同意。特申请为盼。例文如</tspan><tspan x="1734" dy="15.2">下：</tspan></text></g>
<g id="p9a1"><path class="u" d="M1996 2440 H2241.5"/><text class="t" x="2004" y="2416.8">尊敬的公司领导：　您好！　首先感谢公司领导<tspan x="2004" dy="15.2">对我的栽培和帮助。</tspan></text></g>
<g id="p9a2"><path class="u" d="M1996 2521.5 H2241.5"/><text class="t" x="2002" y="2483.1">我是一名XXXX，于XXX年X月进入公司工作<tspan x="2002" dy="15.2">，至今已有X年。公司的不断发展壮大，我个</tspan><tspan x="2002" dy="15.2">人的能力也在不断提升和进步。</tspan></text></g>
<g id="p9a3"><path class="u" d="M1996 2618.8 H2241.5"/><text class="t" x="2002" y="2565.2">由于珍惜并且热爱这份工作，因此在自己的岗<tspan x="2002" dy="15.2">位上，我一直努力工作，认真负责。在此，</tspan><tspan x="2002" dy="15.2">特向公司申请给予我购买社保的请求，希望公</tspan><tspan x="2002" dy="15.2">司能够批准为盼，谢谢！</tspan></text></g>
<g id="p9a4"><path class="u" d="M1996 2670 H2074"/><text class="t" x="2004" y="2662">此致 敬礼！</text></g>
<g id="p9a5"><path class="u" d="M1996 2722.6 H2142"/><text class="t" x="2004" y="2714.6">申请人：　XXXX年X月X日</text></g>

<g id="p11a"><path class="u" d="M1734 3138.8 H1829"/><text class="t" x="1740" y="3130.8">一、参保管理</text></g>
<g id="p11a1"><path class="u" d="M1841 2774 H1946"/><text class="t" x="1848" y="2766">（一）、人员参保</text></g>
<g id="p11a2"><path class="u" d="M1841 2840.4 H2087"/><text class="t" x="1847" y="2817.2">1、操作步骤：（详见附件《人员参保管理操<tspan x="1847" dy="15.2">作流程》）</tspan></text></g>
<g id="p11a3"><path class="u" d="M1841 3502.5 H1939"/><text class="t" x="1847" y="3494.5">2、注意事项：</text></g>
<g id="p11n1"><path class="u" d="M1951 2953.8 H2197.5"/><text class="t" x="1958" y="2885">1）、若职工在进入该企业之前是以个体形式<tspan x="1958" dy="15.2">参保并还未停保，该企业是无法为该职工续保</tspan><tspan x="1958" dy="15.2">，可以最大限度给其两个月的时间停保，需要</tspan><tspan x="1958" dy="15.2">注意的是：个体参保不能购买失业和工伤，若</tspan><tspan x="1958" dy="15.2">在此期间发生意外，则会引起纠纷；</tspan></text></g>
<g id="p11n2"><path class="u" d="M1951 3065.4 H2197.5"/><text class="t" x="1958" y="2996.6">2）、当月办理人员增加当月就产生社保费用<tspan x="1958" dy="15.2">；可增加本月和上月（最多增加到上月），这</tspan><tspan x="1958" dy="15.2">样就将生成两个月社保费用，如9月办理增加</tspan><tspan x="1958" dy="15.2">，就只能增加9月和8月的社保，注意新增人</tspan><tspan x="1958" dy="15.2">员失败的可以重新办理增加；</tspan></text></g>
<g id="p11n3"><path class="u" d="M1951 3222.4 H2197.5"/><text class="t" x="1958" y="3138.4">3）、若是想购买8月社保，但操作失误购买<tspan x="1958" dy="15.2">成9月的了，则需要补中断，直接补买8月的</tspan><tspan x="1958" dy="15.2">，不需要上传任何资料；若还想办理人员增加</tspan><tspan x="1958" dy="15.2">到上个月之前的，也要补中断，需上传一系列</tspan><tspan x="1958" dy="15.2">资料，资料详见附表一《最新单位补缴职工社</tspan><tspan x="1958" dy="15.2">保须知》；</tspan></text></g>
<g id="p11n3a"><path class="u" d="M2220 3222.4 H2464.5"/><text class="t" x="2226" y="3108">注意①补中断的前提必须要先参保，只可补缴<tspan x="2226" dy="15.2">半年以内的，超过半年的社保局将会稽核，②</tspan><tspan x="2226" dy="15.2">在操作人员补中断时选择补缴时间若是9月，</tspan><tspan x="2226" dy="15.2">起始时间就该写成至，③若数据未上传，可以</tspan><tspan x="2226" dy="15.2">在"申报数据查询—补中断查询—未上传数据</tspan><tspan x="2226" dy="15.2">—勾选想要撤销的数据栏"，若数据处理成功</tspan><tspan x="2226" dy="15.2">（已实时支付）就只能办理人员减少，不能撤</tspan><tspan x="2226" dy="15.2">销；</tspan></text></g>
<g id="p11n4"><path class="u" d="M1951 3335 H2197.5"/><text class="t" x="1958" y="3266.2">4）参保时限为：男六十岁，女五十岁（管理<tspan x="1958" dy="15.2">人员可放宽到五十五岁，需到社保大厅办理，</tspan><tspan x="1958" dy="15.2">需提供说明和劳动合同，证明其是管理岗位）</tspan><tspan x="1958" dy="15.2">，时间精确到年、月、日，超过这个时限就无</tspan><tspan x="1958" dy="15.2">法购买社保；</tspan></text></g>
<g id="p11n5"><path class="u" d="M1951 3462.5 H2197.5"/><text class="t" x="1958" y="3378.5">5）、只要职工没达到法定退休年龄（一般情<tspan x="1958" dy="15.2">况下:男60岁，女50岁），即使社保缴纳年限</tspan><tspan x="1958" dy="15.2">已满15年（比如某职工从25岁开始购买社保</tspan><tspan x="1958" dy="15.2">，到40岁已买满15年，但还未达到退休年龄</tspan><tspan x="1958" dy="15.2">），企业应继续为其购买社保，当然个体参保</tspan><tspan x="1958" dy="15.2">的除外；</tspan></text></g>
<g id="p11n6"><path class="u" d="M1951 3636 H2197.5"/><text class="t" x="1958" y="3506.4">6）、职工达到法定退休年龄但社保购买的年<tspan x="1958" dy="15.2">限未满15年（比如某女职工从45岁开始购买</tspan><tspan x="1958" dy="15.2">社保，到法定退休年龄时的社保年限只有5年</tspan><tspan x="1958" dy="15.2">），若企业未与该职工解除劳动合同就应该继</tspan><tspan x="1958" dy="15.2">续为其购买社保，直到劳动合同终止（因为一</tspan><tspan x="1958" dy="15.2">旦给该职工停保，企业就无法再次为其参保）</tspan><tspan x="1958" dy="15.2">，在这种情况下劳动合同一旦终止，该职工只</tspan><tspan x="1958" dy="15.2">有以个体形式参保，直到参保年限达到15年</tspan><tspan x="1958" dy="15.2">就可以不再购买，并能终身享受社保待遇；</tspan></text></g>
<g id="p11n7"><path class="u" d="M1951 3749.5 H2197.5"/><text class="t" x="1958" y="3680.7">7）、若企业新入职人员为退休人员，企业就<tspan x="1958" dy="15.2">只能给其买商业保险，注意若某些职员还没达</tspan><tspan x="1958" dy="15.2">到退休年龄，但已经开始在社保局领养老金了</tspan><tspan x="1958" dy="15.2">，像这种只要是社保局内认了，就当成退休人</tspan><tspan x="1958" dy="15.2">员处理；</tspan></text></g>
<g id="p11n8"><path class="u" d="M1951 3908.4 H2197.5"/><text class="t" x="1958" y="3794">8）、非全日制（工作日非8小时制）与兼职<tspan x="1958" dy="15.2">人员（两个或两个以上企业）可以只买工伤保</tspan><tspan x="1958" dy="15.2">险，注意前提是"非全日制"：必须是个人购买</tspan><tspan x="1958" dy="15.2">了养老、医疗、生育、大病，"兼职人员"只要</tspan><tspan x="1958" dy="15.2">是在外或成都购买了五险或六险，并必须是企</tspan><tspan x="1958" dy="15.2">业的用人单位（政府机关、事业单位除外），</tspan><tspan x="1958" dy="15.2">需提供的资料详见附表二《只买工伤参保须知</tspan><tspan x="1958" dy="15.2">》；</tspan></text></g>
<g id="p11n9"><path class="u" d="M1951 3990.6 H2197.5"/><text class="t" x="1958" y="3952.2">9）、单位收付结算方式中"非定期银行托收"<tspan x="1958" dy="15.2">指"银行代扣"、"银行托收"，具体详见附表三</tspan><tspan x="1958" dy="15.2">《最新新增人员银行代扣和托收须知》；</tspan></text></g>
<g id="p11n9a"><path class="u" d="M2220 3990.6 H2464.5"/><text class="t" x="2226" y="3952.2">注意是否扣款成功在缴费信息查询—缴费单查<tspan x="2226" dy="15.2">询打印中查看，若业务处理标志、财务处理标</tspan><tspan x="2226" dy="15.2">志为"已实付"，则为处理成功；</tspan></text></g>
<g id="p11n10"><path class="u" d="M1951 4059.4 H2197.5"/><text class="t" x="1958" y="4036.2">10）、若办理社保需急缴费的，可以在QQ群<tspan x="1958" dy="15.2">中跟蒋科长反应，他那边可以修改为"现金"</tspan></text></g>

<g id="watermarks">
<text class="wm" transform="translate(655 515) rotate(-32)" text-anchor="middle">树图 shutu.cn</text>
<text class="wm" transform="translate(640 1540) rotate(-32)" text-anchor="middle">树图 shutu.cn</text>
<text class="wm" transform="translate(650 2510) rotate(-32)" text-anchor="middle">树图 shutu.cn</text>
<text class="wm" transform="translate(650 3470) rotate(-32)" text-anchor="middle">树图 shutu.cn</text>
<text class="wm" transform="translate(1940 520) rotate(-32)" text-anchor="middle">树图 shutu.cn</text>
<text class="wm" transform="translate(1920 1550) rotate(-32)" text-anchor="middle">树图 shutu.cn</text>
<text class="wm" transform="translate(1940 2510) rotate(-32)" text-anchor="middle">树图 shutu.cn</text>
<text class="wm" transform="translate(1940 3520) rotate(-32)" text-anchor="middle">树图 shutu.cn</text>
</g>
</g>
</svg>
